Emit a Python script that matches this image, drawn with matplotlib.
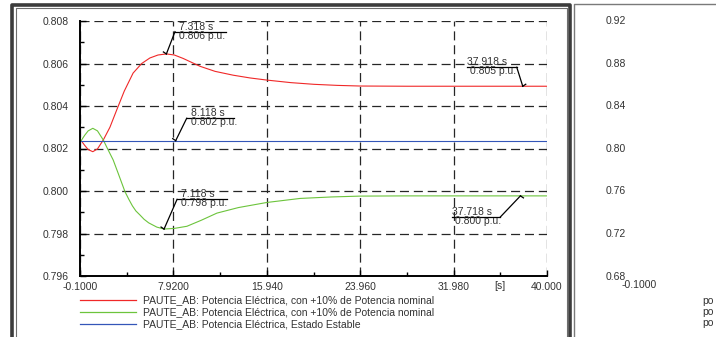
import matplotlib
matplotlib.use("Agg")
import matplotlib.pyplot as plt
from matplotlib.lines import Line2D
from matplotlib.transforms import IdentityTransform
import numpy as np

plt.rcParams['font.family'] = ['Liberation Sans', 'DejaVu Sans']
plt.rcParams['lines.scale_dashes'] = False

W, H = 716, 337

# curvas (tiempo [s], potencia [p.u.])
red_t = [-0.1, 0.0, 0.3, 0.6, 1.0, 1.4, 1.9, 2.47, 3.05, 3.7, 4.46, 5.2, 5.9, 6.6,
         7.318, 8.0, 8.75, 10.2, 11.5, 13.05, 14.5, 15.94, 18.0, 20.0, 22.0, 23.96,
         28.0, 32.0, 36.0, 37.918, 40.0]
red_v = [0.80237, 0.80237, 0.80215, 0.80195, 0.80185, 0.80198, 0.80240, 0.80300,
         0.80381, 0.80470, 0.80555, 0.80600, 0.80626, 0.80640, 0.80645, 0.80640,
         0.80624, 0.80587, 0.80563, 0.80545, 0.80532, 0.80522, 0.80510, 0.80502,
         0.80497, 0.80494, 0.80493, 0.80493, 0.80493, 0.80493, 0.80493]

green_t = [-0.1, 0.0, 0.3, 0.6, 1.0, 1.4, 1.9, 2.3, 2.75, 3.2, 3.76, 4.1, 4.4, 4.7,
           5.05, 5.4, 5.8, 6.5, 7.118, 8.0, 9.08, 10.3, 11.66, 13.5, 15.94, 18.8,
           21.5, 23.96, 28.0, 32.0, 36.0, 37.718, 40.0]
green_v = [0.80237, 0.80237, 0.80262, 0.80283, 0.80295, 0.80283, 0.80240, 0.80195,
           0.80146, 0.80080, 0.79997, 0.79960, 0.79930, 0.79906, 0.79887, 0.79867,
           0.79850, 0.79830, 0.79821, 0.79824, 0.79834, 0.79862, 0.79896, 0.79922,
           0.79946, 0.79965, 0.79972, 0.79976, 0.79977, 0.79977, 0.79977, 0.79977,
           0.79977]

blue_t = [-0.1, 8.118, 40.0]
blue_v = [0.80237, 0.80237, 0.80237]

x_ticks = [-0.1, 7.92, 15.94, 23.96, 31.98, 40.0]
x_labels = ["-0.1000", "7.9200", "15.940", "23.960", "31.980", "40.000"]
y_ticks = [0.796, 0.798, 0.800, 0.802, 0.804, 0.806, 0.808]

legend_labels = [
    "PAUTE_AB: Potencia Eléctrica, con +10% de Potencia nominal",
    "PAUTE_AB: Potencia Eléctrica, con +10% de Potencia nominal",
    "PAUTE_AB: Potencia Eléctrica, Estado Estable",
]
colors = ["#f02828", "#6cc43c", "#3456b8"]

right_y_labels = ["0.92", "0.88", "0.84", "0.80", "0.76", "0.72", "0.68"]

txt_col = "#333333"
fs = 7.5

fig = plt.figure(figsize=(W / 100, H / 100), dpi=100)
fig.patch.set_facecolor("white")


def P(x, y):
    # pixel de imagen (origen arriba-izq) -> coordenadas de pantalla
    return x, H - y


def fline(xs, ys, **kw):
    pts = [P(a, b) for a, b in zip(xs, ys)]
    fig.add_artist(Line2D([p[0] for p in pts], [p[1] for p in pts],
                          transform=IdentityTransform(), **kw))


def ftext(x, y, s, **kw):
    X, Y = P(x, y)
    fig.text(X, Y, s, transform=IdentityTransform(), fontsize=fs, color=txt_col,
             va="center", **kw)


ax = fig.add_axes([80 / W, 61 / H, 467 / W, 255 / H])
ax.set_xlim(-0.1, 40.0)
ax.set_ylim(0.796, 0.808)

ax.plot(red_t, red_v, color=colors[0], lw=0.8)
ax.plot(green_t, green_v, color=colors[1], lw=0.8)
ax.plot(blue_t, blue_v, color=colors[2], lw=0.8)

ax.set_xticks(x_ticks)
ax.set_xticklabels(x_labels)
ax.set_xticks([(a + b) / 2 for a, b in zip(x_ticks[:-1], x_ticks[1:])], minor=True)
ax.set_yticks(y_ticks)
ax.set_yticklabels(["%.3f" % v for v in y_ticks])
ax.set_yticks([v + 0.001 for v in y_ticks[:-1]], minor=True)
ax.tick_params(which="both", direction="in", colors="black", labelcolor=txt_col,
               labelsize=fs, width=1)
ax.tick_params(which="major", length=4)
ax.tick_params(which="minor", length=3)
ax.tick_params(axis="y", pad=8)
ax.tick_params(axis="x", pad=4)
ax.grid(True, which="major", color="#262626", lw=0.9, linestyle=(0, (6.5, 3.5)))
for s in ["top", "right"]:
    ax.spines[s].set_visible(False)
for s in ["left", "bottom"]:
    ax.spines[s].set_linewidth(1.4)

fig.canvas.draw()

# unidad del eje x, en la marca secundaria 35.99
ux, _ = ax.transData.transform((35.99, 0.796))
ftext(ux, 286, "[s]", ha="center")


def marca(t, v, dx, dy, largo, tx2=0):
    px, py = ax.transData.transform((t, v))
    x0, y0 = px, H - py
    ex, ey = x0 + dx, y0 + dy
    fline([x0, ex], [y0, ey], color="black", lw=0.9)
    # punta pequena
    sx = -3 if dx > 0 else 3
    fline([x0 + sx, x0], [y0 - 2 if dy < 0 else y0 + 2, y0], color="black", lw=0.9)
    fline([ex, ex + largo], [ey, ey], color="black", lw=0.9)
    xl = ex + 4 if largo > 0 else ex + largo
    ftext(xl, ey - 5, "%.3f s" % t, ha="left")
    ftext(xl + tx2, ey + 4, "%.3f p.u." % v, ha="left")


i = red_t.index(7.318)
marca(red_t[i], red_v[i], 8.6, -22.3, 51)
i = blue_t.index(8.118)
marca(blue_t[i], blue_v[i], 11, -22.4, 47)
i = green_t.index(7.118)
marca(green_t[i], green_v[i], 13, -29.7, 50)
i = red_t.index(37.918)
marca(red_t[i], red_v[i], -6, -19, -50, 3)
i = green_t.index(37.718)
marca(green_t[i], green_v[i], -20, 21, -48, 3)

# leyenda
for k, (lab, c) in enumerate(zip(legend_labels, colors)):
    y = 300 + 12 * k
    fline([80, 136], [y, y], color=c, lw=0.9)
    ftext(143, y, lab, ha="left")

# marco del panel izquierdo
fline([12, 12, 570, 570], [H + 5, 5, 5, H + 5], color="#3c3c3c", lw=2.6)
fline([15.5, 15.5, 566.5, 566.5], [H + 5, 8, 8, H + 5], color="#6e6e6e", lw=0.8)

# panel derecho
fline([573.5, 573.5, W + 5], [H + 5, 4, 4], color="#7a7a7a", lw=1)
for k, lab in enumerate(right_y_labels):
    ftext(606, 21 + 42.6 * k, lab, ha="left")
ftext(622, 285, "-0.1000", ha="left")
for y in [301, 312, 323]:
    ftext(702, y, "po", ha="left")

fig.savefig("out.png", dpi=100)
